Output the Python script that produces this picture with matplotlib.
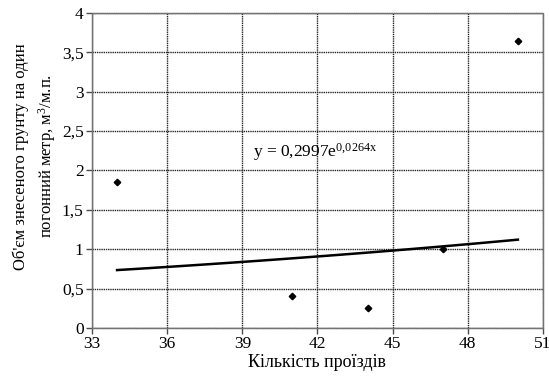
import numpy as np
import matplotlib.pyplot as plt

plt.rcParams['font.family'] = ['Liberation Serif', 'DejaVu Serif']
plt.rcParams['mathtext.fontset'] = 'custom'
plt.rcParams['mathtext.rm'] = 'Liberation Serif'
plt.rcParams['mathtext.it'] = 'Liberation Serif'

# data
passes = [34, 41, 44, 47, 50]
volume = [1.86, 0.40, 0.25, 1.00, 3.65]
trend_a = 0.2997
trend_b = 0.0264
x_ticks = [33, 36, 39, 42, 45, 48, 51]
y_ticks = [0, 0.5, 1, 1.5, 2, 2.5, 3, 3.5, 4]

fig = plt.figure(figsize=(5.49, 3.77), dpi=100)
ax = fig.add_axes([0.1676, 0.130, 0.8214, 0.8355])

ax.set_xlim(33, 51)
ax.set_ylim(0, 4)
ax.set_xticks(x_ticks)
ax.set_yticks(y_ticks)
ax.set_yticklabels([f'{v:g}'.replace('.', ',') for v in y_ticks])
ax.tick_params(labelsize=12.5, length=4, width=1, color='0.3', pad=2)

ax.grid(True, color='0.15', linestyle=(0, (1, 0.6)), linewidth=1.0)
ax.set_axisbelow(True)
for s in ax.spines.values():
    s.set_color('0.45')
    s.set_linestyle((0, (1, 0.6)))
    s.set_linewidth(1.0)

xs = np.linspace(min(passes), max(passes), 100)
ax.plot(xs, trend_a * np.exp(trend_b * xs), color='black', lw=1.8, zorder=3)
ax.plot(passes, volume, 'D', color='black', markersize=3.3, zorder=4)

ax.text(39.42, 2.24, r'y = 0,2997e$^{\mathregular{0{,}0264x}}$',
        fontsize=12.5, va='center', ha='left')

ax.set_xlabel('Кількість проїздів', fontsize=13, labelpad=1)
ax.set_ylabel('Об\'єм знесеного грунту на один\nпогонний метр, м$^3$/м.п.',
              fontsize=12, linespacing=1.45)
ax.yaxis.set_label_coords(-0.075, 0.545)

plt.savefig('out.png', dpi=100)
